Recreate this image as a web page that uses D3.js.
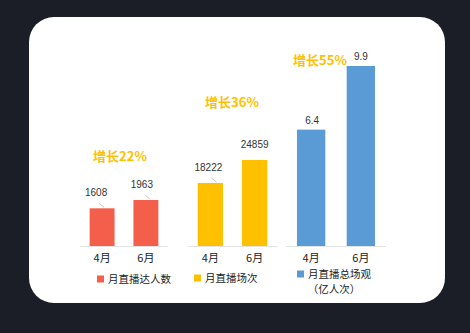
<!DOCTYPE html>
<html>
<head>
<meta charset="utf-8">
<script src="https://cdn.jsdelivr.net/npm/d3@7"></script>
<style>
  html, body { margin: 0; padding: 0; background: #1b1e26; }
  svg { display: block; }
</style>
</head>
<body>
<svg id="canvas"></svg>
<script>
const w = 470, h = 333;

// data
const months = ["4月", "6月"];
const seriesNames = ["月直播达人数", "月直播场次", "月直播总场观"];
const seriesSub = ["", "", "（亿人次）"];
const talents = [1608, 1963];
const sessions = [18222, 24859];
const views = [6.4, 9.9];
const growth = ["增长22%", "增长36%", "增长55%"];
const colors = ["#f45f4b", "#ffc000", "#5b9bd5"];

// layout of the three small panels
const base = 246;
const panels = [
  { values: talents,  range: [80, 168],  hMax: 46,  labelGap: 16, labelDx: [-6, -4], leader: [true, true],  gx: 120, gy: 156 },
  { values: sessions, range: [188, 277], hMax: 86,  labelGap: 16, labelDx: [-2, 0],  leader: [true, false], gx: 232, gy: 102 },
  { values: views,    range: [286, 386], hMax: 180, labelGap: 10, labelDx: [1, 0],   leader: [false, false], gx: 320, gy: 60 }
];

const svg = d3.select("#canvas")
  .attr("width", w)
  .attr("height", h);

// card
svg.append("rect")
  .attr("x", 29).attr("y", 17)
  .attr("width", 416).attr("height", 286)
  .attr("rx", 25)
  .attr("fill", "#fff");

const font = "'Liberation Sans', Arial, 'Noto Sans CJK SC', sans-serif";
const cjk = "'Noto Sans CJK SC', sans-serif";

panels.forEach((p, i) => {
  const x = d3.scaleBand()
    .domain(months)
    .range(p.range)
    .paddingInner(0.43)
    .paddingOuter(0.22);

  const y = d3.scaleLinear()
    .domain([0, d3.max(p.values)])
    .range([base, base - p.hMax]);

  const g = svg.append("g");

  // baseline
  g.append("line")
    .attr("x1", p.range[0]).attr("x2", p.range[1])
    .attr("y1", base + 0.5).attr("y2", base + 0.5)
    .attr("stroke", "#e3e3e3");

  g.selectAll("rect.bar")
    .data(p.values)
    .enter()
    .append("rect")
      .attr("class", "bar")
      .attr("x", (d, j) => x(months[j]))
      .attr("y", d => y(d))
      .attr("width", x.bandwidth())
      .attr("height", d => base - y(d))
      .attr("fill", colors[i]);

  // leader lines
  g.selectAll("line.leader")
    .data(p.values)
    .enter()
    .filter((d, j) => p.leader[j])
    .append("line")
      .attr("class", "leader")
      .attr("x1", (d, j) => x(months[j]) + x.bandwidth() / 2 + p.labelDx[j] + 3)
      .attr("y1", d => y(d) - 5)
      .attr("x2", (d, j) => x(months[j]) + x.bandwidth() / 2 + p.labelDx[j] + 8)
      .attr("y2", d => y(d) - 1)
      .attr("stroke", "#bbb")
      .attr("stroke-width", 0.8);

  // value labels
  g.selectAll("text.val")
    .data(p.values)
    .enter()
    .append("text")
      .attr("class", "val")
      .attr("x", (d, j) => x(months[j]) + x.bandwidth() / 2 + p.labelDx[j])
      .attr("y", d => y(d) - p.labelGap + 4)
      .attr("text-anchor", "middle")
      .attr("font-family", font)
      .attr("font-size", 10)
      .attr("fill", "#333")
      .text(d => d);

  // month axis labels
  g.selectAll("text.month")
    .data(months)
    .enter()
    .append("text")
      .attr("class", "month")
      .attr("x", d => x(d) + x.bandwidth() / 2)
      .attr("y", 262)
      .attr("text-anchor", "middle")
      .attr("font-family", cjk)
      .attr("font-size", 11)
      .attr("fill", "#222")
      .text(d => d);

  // growth tag
  g.append("text")
    .attr("x", p.gx)
    .attr("y", p.gy + 5)
    .attr("text-anchor", "middle")
    .attr("font-family", cjk)
    .attr("font-size", 13)
    .attr("font-weight", "bold")
    .attr("fill", "#ffc000")
    .text(growth[i]);
});

// legend
const legendPos = [[97, 279], [194, 278], [297, 274]];
seriesNames.forEach((name, i) => {
  const [lx, ly] = legendPos[i];
  svg.append("rect")
    .attr("x", lx).attr("y", ly - 3.5)
    .attr("width", 7).attr("height", 7)
    .attr("fill", colors[i]);
  svg.append("text")
    .attr("x", lx + 11)
    .attr("y", ly + 4)
    .attr("font-family", cjk)
    .attr("font-size", 10.5)
    .attr("fill", "#222")
    .text(name);
  if (seriesSub[i]) {
    svg.append("text")
      .attr("x", lx + 37)
      .attr("y", ly + 19)
      .attr("text-anchor", "middle")
      .attr("font-family", cjk)
      .attr("font-size", 10.5)
      .attr("fill", "#222")
      .text(seriesSub[i]);
  }
});
</script>
</body>
</html>
